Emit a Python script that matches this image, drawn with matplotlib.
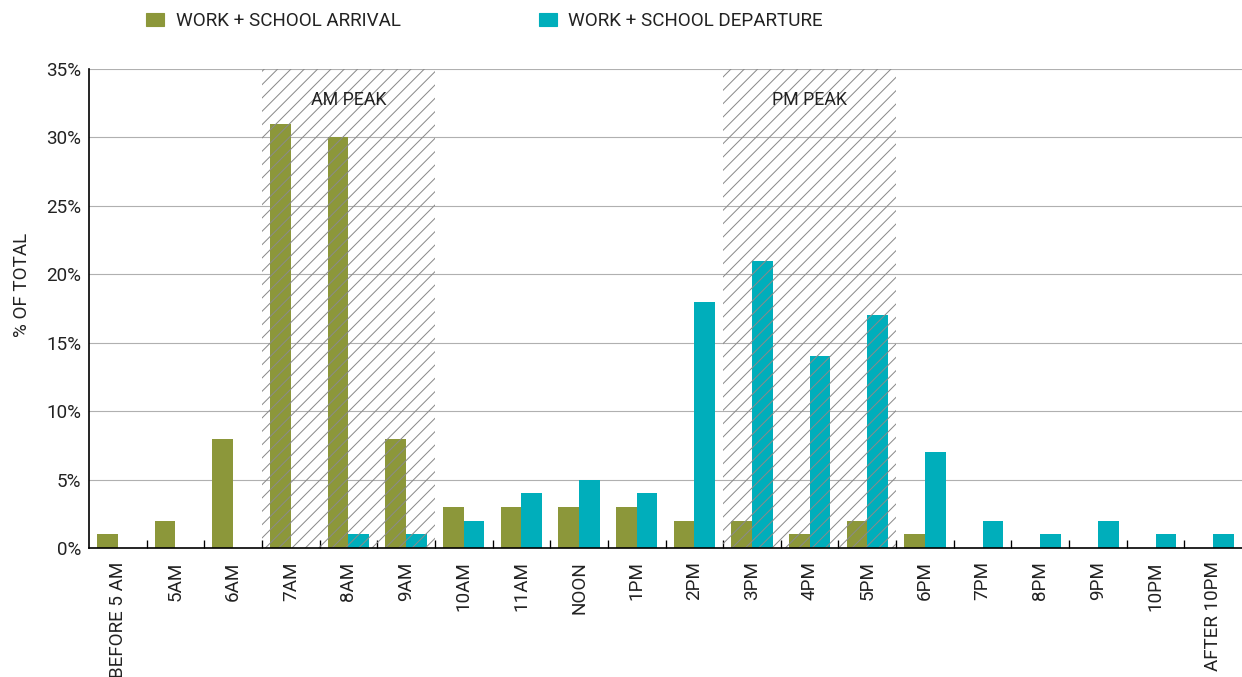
import matplotlib
matplotlib.use('Agg')
import matplotlib.pyplot as plt
from matplotlib.patches import Patch
import numpy as np

plt.rcParams['font.family'] = ['Roboto', 'DejaVu Sans']
plt.rcParams['hatch.linewidth'] = 0.9

hours = ['BEFORE 5 AM', '5AM', '6AM', '7AM', '8AM', '9AM', '10AM', '11AM', 'NOON', '1PM',
         '2PM', '3PM', '4PM', '5PM', '6PM', '7PM', '8PM', '9PM', '10PM', 'AFTER 10PM']
arrival = [1, 2, 8, 31, 30, 8, 3, 3, 3, 3, 2, 2, 1, 2, 1, 0, 0, 0, 0, 0]
departure = [0, 0, 0, 0, 1, 1, 2, 4, 5, 4, 18, 21, 14, 17, 7, 2, 1, 2, 1, 1]
peaks = [('AM PEAK', '7AM', '9AM'), ('PM PEAK', '3PM', '5PM')]

olive = '#8c973a'
teal = '#00aebb'
txt = '#222222'

# dpi 80 so the '//' hatch comes out at the reference spacing
fig = plt.figure(figsize=(1242 / 80, 677 / 80), dpi=80)
ax = fig.add_axes([89 / 1242, 1 - 548 / 677, 1 - 89 / 1242, (548 - 69) / 677])

x = np.arange(len(hours))
w = 0.36
ax.bar(x - 0.18, arrival, w, color=olive, zorder=3)
ax.bar(x + 0.18, departure, w, color=teal, zorder=3)

# hatch sits on top of the bars, like the reference
for name, a, b in peaks:
    i0, i1 = hours.index(a), hours.index(b)
    ax.axvspan(i0 - 0.5, i1 + 0.5, facecolor='none', edgecolor='#8a8a8a',
               hatch='//', linewidth=0, zorder=4)
    ax.text((i0 + i1) / 2, 32.7, name, ha='center', va='center',
            fontsize=16, color=txt, zorder=5)

ax.set_xlim(-0.5, len(hours) - 0.5)
ax.set_ylim(0, 35)
ax.set_yticks(np.arange(0, 36, 5))
ax.set_yticklabels([f'{v}%' for v in range(0, 36, 5)])
ax.yaxis.grid(True, color='#b0b0b0', linewidth=1, zorder=0)
ax.set_axisbelow(True)

ax.set_xticks(x)
ax.set_xticklabels(hours, rotation=90, va='top')
ax.set_xticks(np.arange(0.5, len(hours) - 0.5, 1), minor=True)
ax.tick_params(axis='x', which='major', length=0, pad=12, labelsize=17, labelcolor=txt)
ax.tick_params(axis='x', which='minor', direction='in', length=7, width=1.2, color='black')
ax.tick_params(axis='y', length=0, pad=7, labelsize=17, labelcolor=txt)

for s in ['top', 'right']:
    ax.spines[s].set_visible(False)
ax.spines['left'].set_linewidth(1.5)
ax.spines['bottom'].set_linewidth(1.5)
ax.spines['left'].set_zorder(6)
ax.spines['bottom'].set_zorder(6)

ax.set_ylabel('% OF TOTAL', fontsize=17, color=txt)
ax.yaxis.set_label_coords(-0.05, 0.55)

handles = [Patch(color=olive, label='WORK + SCHOOL ARRIVAL'),
           Patch(color=teal, label='WORK + SCHOOL DEPARTURE')]
fig.legend(handles=handles, ncol=2, frameon=False, fontsize=17,
           loc='center left', bbox_to_anchor=(146 / 1242, 1 - 21 / 677),
           borderpad=0, borderaxespad=0,
           handlelength=0.95, handleheight=0.74, handletextpad=0.63, columnspacing=7.3,
           labelcolor=txt)

fig.savefig('out.png', dpi=80)
